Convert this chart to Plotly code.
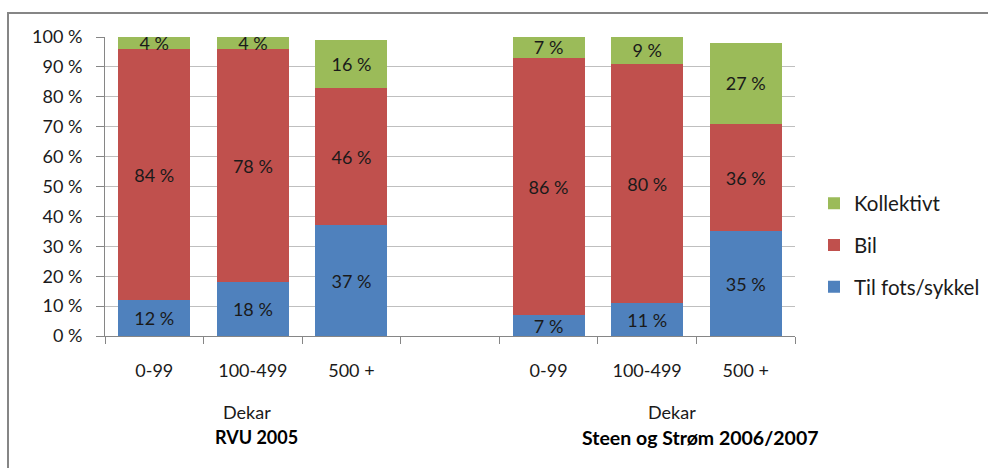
import plotly.graph_objects as go

# Farm size classes (dekar) and the two surveys
size_classes = ["0-99", "100-499", "500 +"]
surveys = ["RVU 2005", "Steen og Strøm 2006/2007"]
size_unit = "Dekar"

# Share of trips by travel mode, percent
til_fots_rvu = [12, 18, 37]
bil_rvu = [84, 78, 46]
kollektivt_rvu = [4, 4, 16]

til_fots_steen = [7, 11, 35]
bil_steen = [86, 80, 36]
kollektivt_steen = [7, 9, 27]

series_names = ["Til fots/sykkel", "Bil", "Kollektivt"]
series_colors = ["#4F81BD", "#C0504D", "#9BBB59"]

y_ticks = list(range(0, 101, 10))

survey_values = [
    [til_fots_rvu, bil_rvu, kollektivt_rvu],
    [til_fots_steen, bil_steen, kollektivt_steen],
]

FONT = "Lato"
TEXT = "#1a1a1a"
W, H = 988, 468
L, R, T, B = 105, 795, 37, 336  # plot area in pixels


def px_x(p):
    return (p - L) / (R - L)


def px_y(p):
    return (B - p) / (B - T)


def pct(v):
    return f"{v} %"


# slot layout: group 1, one empty slot, group 2
n = len(size_classes)
slots = [list(range(0, n)), list(range(n + 1, 2 * n + 1))]
n_slots = 2 * n + 1

fig = go.Figure()
for g, values in enumerate(survey_values):
    for k, (name, color, vals) in enumerate(zip(series_names, series_colors, values)):
        fig.add_trace(go.Bar(
            x=slots[g],
            y=vals,
            name=name,
            legendgroup=name,
            legendrank=len(series_names) - k,
            showlegend=(g == 0),
            marker=dict(color=color, line=dict(width=0)),
            width=0.73,
            text=[pct(v) for v in vals],
            textposition="inside",
            insidetextanchor="middle",
            textangle=0,
            textfont=dict(family=FONT, size=18, color=TEXT),
            hoverinfo="skip",
        ))

tick_vals = slots[0] + slots[1]
tick_text = size_classes + size_classes
boundaries = [i - 0.5 for i in range(n_slots + 1)]

annotations = []
unit_x = [247, 672]
survey_x = [256, 700]
survey_size = [18, 19.5]
for g in range(2):
    annotations.append(dict(
        x=px_x(unit_x[g]), y=px_y(412), xref="paper", yref="paper",
        text=size_unit, showarrow=False, xanchor="center", yanchor="middle",
        font=dict(family=FONT, size=18, color=TEXT),
    ))
    annotations.append(dict(
        x=px_x(survey_x[g]), y=px_y(437), xref="paper", yref="paper",
        text="<b>" + surveys[g] + "</b>", showarrow=False,
        xanchor="center", yanchor="middle",
        font=dict(family=FONT, size=survey_size[g], color="#000000"),
    ))

fig.update_layout(
    width=W, height=H,
    margin=dict(l=L, r=W - R, t=T, b=H - B, pad=0, autoexpand=False),
    paper_bgcolor="white", plot_bgcolor="white",
    barmode="stack",
    font=dict(family=FONT, size=18, color=TEXT),
    uniformtext=dict(mode="show", minsize=18),
    showlegend=True,
    legend=dict(
        x=px_x(814), y=px_y(245), xanchor="left", yanchor="middle",
        traceorder="grouped", tracegroupgap=12,
        font=dict(family=FONT, size=20.5, color=TEXT),
        bgcolor="rgba(0,0,0,0)", borderwidth=0,
    ),
    xaxis=dict(
        range=[-0.5, n_slots - 0.5],
        tickmode="array", tickvals=tick_vals, ticktext=tick_text,
        ticks="", showgrid=False, zeroline=False,
        showline=True, linecolor="#868686", linewidth=1,
        ticklabelstandoff=18,
        tickfont=dict(family=FONT, size=18, color=TEXT),
        minor=dict(tickmode="array", tickvals=boundaries, ticks="outside",
                   ticklen=7, tickcolor="#868686", tickwidth=1, showgrid=False),
        fixedrange=True,
    ),
    yaxis=dict(
        range=[0, 100], tickmode="array", tickvals=y_ticks,
        ticktext=[pct(v) for v in y_ticks],
        ticks="outside", ticklen=8, tickcolor="#868686", tickwidth=1,
        showgrid=True, gridcolor="#BFBFBF", gridwidth=1,
        zeroline=False, showline=True, linecolor="#868686", linewidth=1,
        ticklabelstandoff=10,
        tickfont=dict(family=FONT, size=18, color=TEXT),
        fixedrange=True,
    ),
    annotations=annotations,
    shapes=[dict(
        type="rect", xref="paper", yref="paper",
        x0=px_x(8), x1=px_x(W + 20), y0=px_y(H + 20), y1=px_y(13),
        line=dict(color="#868686", width=2), fillcolor="rgba(0,0,0,0)",
        layer="below",
    )],
)

fig.write_html("out.html", config={"displayModeBar": False})
